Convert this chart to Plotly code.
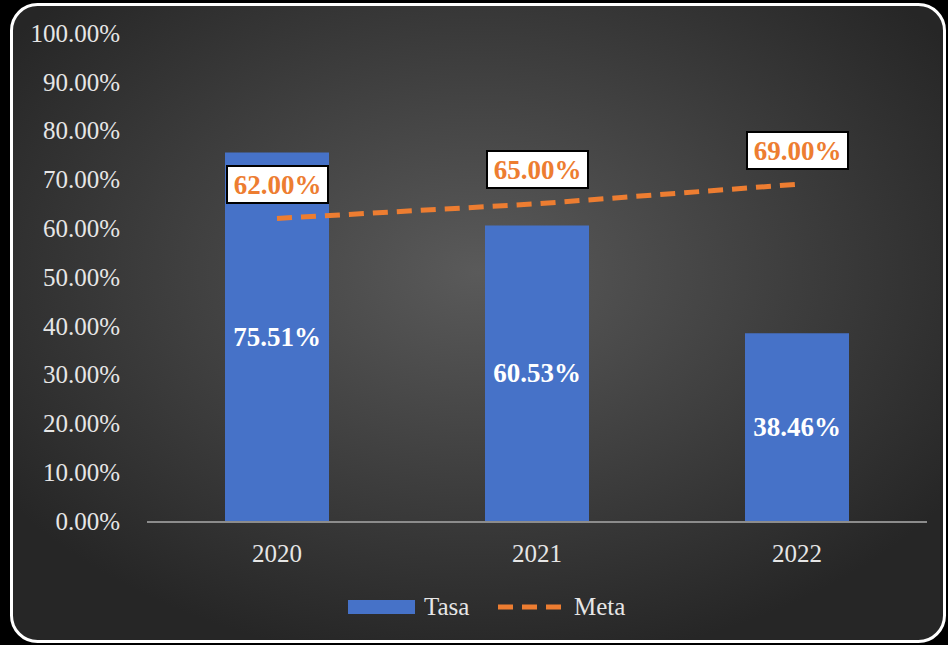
import base64
import plotly.graph_objects as go

# Data
years = ["2020", "2021", "2022"]
tasa = [75.51, 60.53, 38.46]
meta = [62.00, 65.00, 69.00]
series_names = ["Tasa", "Meta"]
y_ticks = [0, 10, 20, 30, 40, 50, 60, 70, 80, 90, 100]

W, H = 948, 645
ML, MR, MT, MB = 147, 21, 33, 124
PW, PH = W - ML - MR, H - MT - MB

FONT = "Liberation Serif, Times New Roman, serif"
BLUE = "#4672c8"
ORANGE = "#ED7D31"
TXT = "#e6e6e6"


def px(x):
    return (x - ML) / PW


def py(y):
    return (H - MB - y) / PH


svg = f"""<svg xmlns='http://www.w3.org/2000/svg' width='{W}' height='{H}' viewBox='0 0 {W} {H}'>
<defs><radialGradient id='g' cx='0.5' cy='0.42' r='0.62'>
<stop offset='0' stop-color='#5a5a5a'/><stop offset='1' stop-color='#262626'/></radialGradient>
<linearGradient id='b' x1='0' y1='0' x2='0' y2='1'>
<stop offset='0' stop-color='#5b80d0'/><stop offset='1' stop-color='#2f5fbf'/></linearGradient></defs>
<rect width='{W}' height='{H}' fill='black'/>
<rect x='11.5' y='4.5' width='933' height='637' rx='26' ry='26' fill='url(#g)' stroke='white' stroke-width='3'/>
</svg>"""
src = "data:image/svg+xml;base64," + base64.b64encode(svg.encode()).decode()

fig = go.Figure()
fig.add_trace(go.Bar(
    x=years, y=tasa, name=series_names[0],
    marker=dict(color=BLUE, line=dict(width=0)),
    texttemplate="%{y:.2f}%", textposition="inside", insidetextanchor="middle",
    textfont=dict(family=FONT, size=27, color="white", weight="bold"),
    showlegend=False,
))
fig.add_trace(go.Scatter(
    x=years, y=meta, name=series_names[1], mode="lines",
    line=dict(color=ORANGE, width=5, dash="15px,9px"),
    showlegend=False,
))

for i, yv in enumerate(meta):
    fig.add_annotation(
        x=i, y=yv, text=f"<b>{yv:.2f}%</b>", showarrow=False, yshift=34,
        font=dict(family=FONT, size=27, color=ORANGE),
        bgcolor="white", bordercolor="black", borderwidth=2, borderpad=1.5,
        width=96, height=32,
    )

# custom legend
fig.add_shape(type="rect", xref="paper", yref="paper",
              x0=px(348), x1=px(415), y0=py(614), y1=py(600),
              fillcolor=BLUE, line=dict(width=0))
fig.add_annotation(xref="paper", yref="paper", x=px(422), y=py(606),
                   xanchor="left", yanchor="middle", showarrow=False,
                   text=series_names[0], font=dict(family=FONT, size=25, color=TXT))
fig.add_shape(type="line", xref="paper", yref="paper",
              x0=px(498), x1=px(564), y0=py(607), y1=py(607),
              line=dict(color=ORANGE, width=5, dash="15px,9px"))
fig.add_annotation(xref="paper", yref="paper", x=px(572), y=py(606),
                   xanchor="left", yanchor="middle", showarrow=False,
                   text=series_names[1], font=dict(family=FONT, size=25, color=TXT))

fig.add_layout_image(dict(
    source=src, xref="paper", yref="paper",
    x=-ML / PW, y=1 + MT / PH, sizex=W / PW, sizey=H / PH,
    xanchor="left", yanchor="top", sizing="stretch", layer="below",
))

fig.update_layout(
    width=W, height=H,
    margin=dict(l=ML, r=MR, t=MT, b=MB),
    paper_bgcolor="black", plot_bgcolor="rgba(0,0,0,0)",
    bargap=0.6,
    font=dict(family=FONT, size=25, color=TXT),
    xaxis=dict(type="category", range=[-0.5, 2.5], showgrid=False, showline=True,
               linecolor="#8c8c8c", linewidth=2, ticks="", ticklabelstandoff=9,
               tickfont=dict(family=FONT, size=25, color=TXT)),
    yaxis=dict(range=[0, 100], tickvals=y_ticks, ticktext=[f"{v:.2f}%" for v in y_ticks],
               showgrid=False, zeroline=False, showline=False, ticks="",
               ticklabelstandoff=26,
               tickfont=dict(family=FONT, size=25, color=TXT)),
    showlegend=False,
)

fig.write_html("out.html", config={"displayModeBar": False},
               post_script="document.body.style.margin='0';document.body.style.background='black';")
